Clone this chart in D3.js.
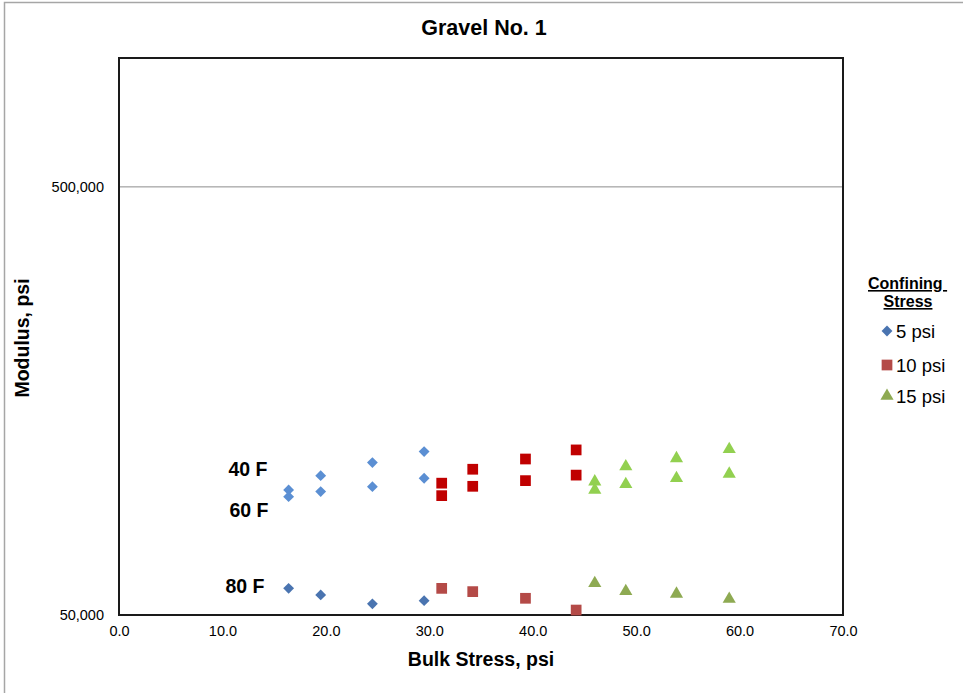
<!DOCTYPE html>
<html>
<head>
<meta charset="utf-8">
<script src="https://cdn.jsdelivr.net/npm/d3@7"></script>
<style>
  body { margin: 0; background: #fff; }
  text { font-family: "Liberation Sans", Arial, sans-serif; }
</style>
</head>
<body>
<svg id="chart" width="963" height="693"></svg>
<script>
// bulk stress (psi) for each confining stress
var bulk5 = [16.4, 19.5, 24.5, 29.5];
var bulk10 = [31.2, 34.2, 39.3, 44.2];
var bulk15 = [46.0, 49.0, 53.9, 59.0];

// modulus (psi) by temperature
var mod40 = { p5: [98000, 105800, 113500, 120400], p10: [101600, 109500, 115700, 121500], p15: [102400, 111100, 116100, 121900] };
var mod60 = { p5: [94500, 97100, 99700, 104300], p10: [95000, 99900, 103000, 106100], p15: [98000, 101000, 104300, 106800] };
var mod80 = { p5: [57700, 55700, 53100, 54000], p10: [57700, 56700, 54700, 51350], p15: [59300, 56800, 56000, 54500] };

var xTicks = [0, 10, 20, 30, 40, 50, 60, 70];
var yTicks = [50000, 500000];
var legendLabels = ["5 psi", "10 psi", "15 psi"];
var tempLabels = ["40 F", "60 F", "80 F"];

var svg = d3.select("#chart");

// outer frame
svg.append("rect").attr("x", 4.5).attr("y", 2.5).attr("width", 970).attr("height", 700)
  .style("fill", "none").style("stroke", "#a6a6a6").style("stroke-width", 1.5);

var pLeft = 119, pRight = 843, pTop = 58, pBottom = 615;

var x = d3.scaleLinear().domain([0, 70]).range([pLeft, pRight]);
var y = d3.scaleLog().domain([50000, 1000000]).range([pBottom, pTop]);

// gridline
svg.selectAll("line.grid").data(yTicks.slice(1)).enter().append("line")
  .attr("x1", pLeft).attr("x2", pRight)
  .attr("y1", function(d) { return y(d); }).attr("y2", function(d) { return y(d); })
  .style("stroke", "#8c8c8c").style("stroke-width", 1);

// axes (labels only, no tick marks)
var xAxis = svg.append("g").attr("transform", "translate(0," + pBottom + ")")
  .call(d3.axisBottom(x).tickValues(xTicks).tickSize(0).tickPadding(11).tickFormat(d3.format(".1f")))
  .attr("font-size", 14.5).attr("font-family", "Liberation Sans, Arial, sans-serif");
xAxis.select(".domain").remove();
xAxis.selectAll("text").style("fill", "#000");

var yAxis = svg.append("g").attr("transform", "translate(" + pLeft + ",0)")
  .call(d3.axisLeft(y).tickValues(yTicks).tickSize(0).tickPadding(15).tickFormat(d3.format(",")))
  .attr("font-size", 14.5).attr("font-family", "Liberation Sans, Arial, sans-serif");
yAxis.select(".domain").remove();
yAxis.selectAll("text").style("fill", "#000");

// plot border
svg.append("rect").attr("x", pLeft).attr("y", pTop).attr("width", pRight - pLeft).attr("height", pBottom - pTop)
  .style("fill", "none").style("stroke", "#1a1a1a").style("stroke-width", 2);

var sym = {
  p5: d3.symbol().type(d3.symbolDiamond2).size(75),
  p10: d3.symbol().type(d3.symbolSquare).size(115),
  p15: d3.symbol().type(d3.symbolTriangle).size(75)
};
var bulk = { p5: bulk5, p10: bulk10, p15: bulk15 };
var lightCol = { p5: "#5b8fd3", p10: "#c00000", p15: "#92d050" };
var darkCol = { p5: "#4a74b0", p10: "#b44a47", p15: "#8eaa52" };

function drawSeries(mods, cols) {
  ["p5", "p10", "p15"].forEach(function(k) {
    svg.append("g").selectAll("path").data(mods[k]).enter().append("path")
      .attr("d", sym[k])
      .attr("transform", function(d, i) { return "translate(" + x(bulk[k][i]) + "," + y(d) + ")"; })
      .style("fill", cols[k]);
  });
}
drawSeries(mod40, lightCol);
drawSeries(mod60, lightCol);
drawSeries(mod80, darkCol);

// temperature labels
svg.selectAll("text.temp").data(tempLabels).enter().append("text")
  .attr("x", function(d, i) { return [248, 249, 245][i]; })
  .attr("y", function(d, i) { return [476, 517, 593][i]; })
  .attr("text-anchor", "middle")
  .style("font-size", "19.5px").style("font-weight", "bold")
  .text(String);

// title
svg.append("text").attr("x", 484).attr("y", 35).attr("text-anchor", "middle")
  .style("font-size", "21.5px").style("font-weight", "bold").text("Gravel No. 1");

// axis titles
svg.append("text").attr("x", 481).attr("y", 666).attr("text-anchor", "middle")
  .style("font-size", "19.5px").style("font-weight", "bold").text("Bulk Stress, psi");
svg.append("text").attr("transform", "translate(29,338) rotate(-90)").attr("text-anchor", "middle")
  .style("font-size", "19.5px").style("font-weight", "bold").text("Modulus, psi");

// legend
var lg = svg.append("g");
lg.append("text").attr("x", 868).attr("y", 289)
  .style("font-size", "16px").style("font-weight", "bold").style("text-decoration", "underline")
  .style("white-space", "pre").attr("xml:space", "preserve").text("Confining ");
lg.append("text").attr("x", 908).attr("y", 307).attr("text-anchor", "middle")
  .style("font-size", "16px").style("font-weight", "bold").style("text-decoration", "underline")
  .text("Stress");

var legKeys = ["p5", "p10", "p15"];
var lEnter = lg.selectAll("g.item").data(legendLabels).enter().append("g")
  .attr("transform", function(d, i) { return "translate(0," + [331, 365, 396][i] + ")"; });
lEnter.append("path")
  .attr("d", function(d, i) { return sym[legKeys[i]](); })
  .attr("transform", "translate(887,0)")
  .style("fill", function(d, i) { return darkCol[legKeys[i]]; });
lEnter.append("text").attr("x", 896).attr("y", 6.5)
  .style("font-size", "18.5px").text(String);
</script>
</body>
</html>
